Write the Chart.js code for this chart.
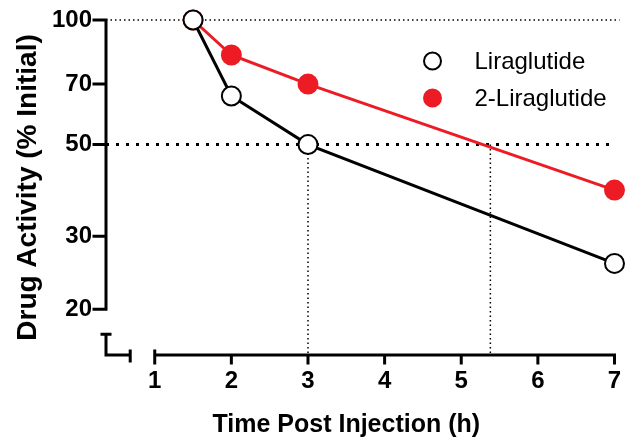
<!DOCTYPE html>
<html>
<head>
<meta charset="utf-8">
<script src="https://cdn.jsdelivr.net/npm/chart.js@4.4.0/dist/chart.umd.min.js"></script>
<style>
  body { margin: 0; background: #fff; }
</style>
</head>
<body>
<canvas id="chart" width="626" height="445"></canvas>
<script>
var hours = [1.5, 2, 3, 7];
var liraglutide = [100, 65.5, 50, 25.8];
var twoLiraglutide = [100, 82.3, 70, 38.8];
var xTicks = [1, 2, 3, 4, 5, 6, 7];
var yTicks = [20, 30, 50, 70, 100];
var halfLives = [3, 5.38];
var xTitle = "Time Post Injection (h)";

var red = "#ED1C24";
var fontFamily = "'Liberation Sans', Arial, sans-serif";

function points(values) {
  return hours.map((h, i) => ({ x: h, y: values[i] }));
}

// draws the GraphPad style axes (with breaks), reference lines and legend
var decor = {
  id: "decor",
  beforeDatasetsDraw(chart) {
    var ctx = chart.ctx;
    var xs = chart.scales.x;
    var ys = chart.scales.y;
    var area = chart.chartArea;
    var left = area.left, bottom = area.bottom, right = area.right;
    ctx.save();
    ctx.strokeStyle = "#000";

    // thin dotted line at 100
    ctx.lineWidth = 1.5;
    ctx.setLineDash([1.5, 3]);
    ctx.beginPath();
    ctx.moveTo(left, ys.getPixelForValue(100));
    ctx.lineTo(right + 5, ys.getPixelForValue(100));
    ctx.stroke();

    // half-life vertical lines
    halfLives.forEach((h) => {
      var px = xs.getPixelForValue(h);
      ctx.beginPath();
      ctx.moveTo(px, ys.getPixelForValue(50));
      ctx.lineTo(px, bottom);
      ctx.stroke();
    });

    // thick dotted line at 50
    ctx.lineWidth = 3;
    ctx.setLineDash([3, 7]);
    ctx.beginPath();
    ctx.moveTo(left, ys.getPixelForValue(50));
    ctx.lineTo(right - 5, ys.getPixelForValue(50));
    ctx.stroke();

    ctx.setLineDash([]);
    ctx.lineWidth = 3;
    ctx.lineCap = "square";

    // y axis
    ctx.beginPath();
    ctx.moveTo(left, ys.getPixelForValue(100));
    ctx.lineTo(left, ys.getPixelForValue(20));
    yTicks.forEach((v) => {
      var py = ys.getPixelForValue(v);
      ctx.moveTo(left - 12, py);
      ctx.lineTo(left, py);
    });
    // y axis break piece
    var yb = ys.getPixelForValue(17.4);
    ctx.moveTo(left - 4, yb);
    ctx.lineTo(left + 4, yb);
    ctx.moveTo(left, yb);
    ctx.lineTo(left, bottom);
    // x axis break piece
    var xb = xs.getPixelForValue(0.68);
    ctx.lineTo(xb, bottom);
    ctx.moveTo(xb, bottom - 4);
    ctx.lineTo(xb, bottom + 6);
    ctx.stroke();

    // x axis
    ctx.beginPath();
    ctx.moveTo(xs.getPixelForValue(1), bottom);
    ctx.lineTo(xs.getPixelForValue(7), bottom);
    xTicks.forEach((v, i) => {
      var px = xs.getPixelForValue(v);
      ctx.moveTo(px, i === 0 ? bottom - 4 : bottom);
      ctx.lineTo(px, bottom + 8);
    });
    ctx.stroke();
    ctx.restore();
  },
  afterDraw(chart) {
    var ctx = chart.ctx;
    var area = chart.chartArea;
    ctx.save();

    // x axis title, GraphPad puts it a bit left of the plot centre
    ctx.font = "bold 25px " + fontFamily;
    ctx.textAlign = "center";
    ctx.textBaseline = "middle";
    ctx.fillStyle = "#000";
    ctx.fillText(xTitle, chart.scales.x.getPixelForValue(3.5), area.bottom + 70);

    // legend
    var lx = area.right - 182;
    var ly = area.top + 41;
    ctx.font = "24px " + fontFamily;
    ctx.textAlign = "left";
    chart.data.datasets.forEach((ds, i) => {
      var y = ly + i * 37;
      ctx.beginPath();
      ctx.arc(lx, y, 8.5, 0, Math.PI * 2);
      ctx.fillStyle = ds.pointBackgroundColor;
      ctx.fill();
      ctx.lineWidth = 2;
      ctx.strokeStyle = ds.pointBorderColor;
      ctx.stroke();
      ctx.fillStyle = "#000";
      ctx.fillText(ds.label, lx + 42, y + 1);
    });
    ctx.restore();
  }
};

var data = {
  datasets: [
    {
      label: "Liraglutide",
      data: points(liraglutide),
      showLine: true,
      borderColor: "#000",
      borderWidth: 3,
      pointRadius: 9.5,
      pointBackgroundColor: "#fff",
      pointBorderColor: "#000",
      pointBorderWidth: 2,
      clip: false,
    },
    {
      label: "2-Liraglutide",
      data: points(twoLiraglutide),
      showLine: true,
      borderColor: red,
      borderWidth: 3,
      pointRadius: 9.5,
      pointBackgroundColor: red,
      pointBorderColor: red,
      pointBorderWidth: 2,
      clip: false,
    },
  ],
};

var options = {
  responsive: false,
  animation: false,
  layout: { padding: { top: 20, right: 9, left: 0, bottom: 0 } },
  plugins: {
    legend: { display: false },
    tooltip: { enabled: false },
  },
  scales: {
    x: {
      type: "linear",
      min: 0.364,
      max: 7,
      afterBuildTicks: (scale) => { scale.ticks = xTicks.map((v) => ({ value: v })); },
      afterFit: (scale) => { scale.height = 90; },
      grid: { display: false, tickLength: 10 },
      border: { display: false },
      ticks: {
        color: "#000",
        padding: 2,
        font: { family: fontFamily, size: 24, weight: "bold" },
        callback: (v) => v,
      },
      title: { display: false },
    },
    y: {
      type: "logarithmic",
      min: 15.5,
      max: 100,
      afterBuildTicks: (scale) => { scale.ticks = yTicks.map((v) => ({ value: v })); },
      afterFit: (scale) => { scale.width = 106; },
      grid: { display: false, tickLength: 12 },
      border: { display: false },
      ticks: {
        color: "#000",
        padding: 2,
        font: { family: fontFamily, size: 24, weight: "bold" },
        callback: (v) => v,
      },
      title: {
        display: true,
        text: "Drug Activity (% Initial)",
        color: "#000",
        padding: { top: 11, bottom: 0 },
        font: { family: fontFamily, size: 28, weight: "bold" },
      },
    },
  },
};

var chart = new Chart(document.getElementById("chart"), {
  type: "scatter",
  data: data,
  options: options,
  plugins: [decor],
});
</script>
</body>
</html>
